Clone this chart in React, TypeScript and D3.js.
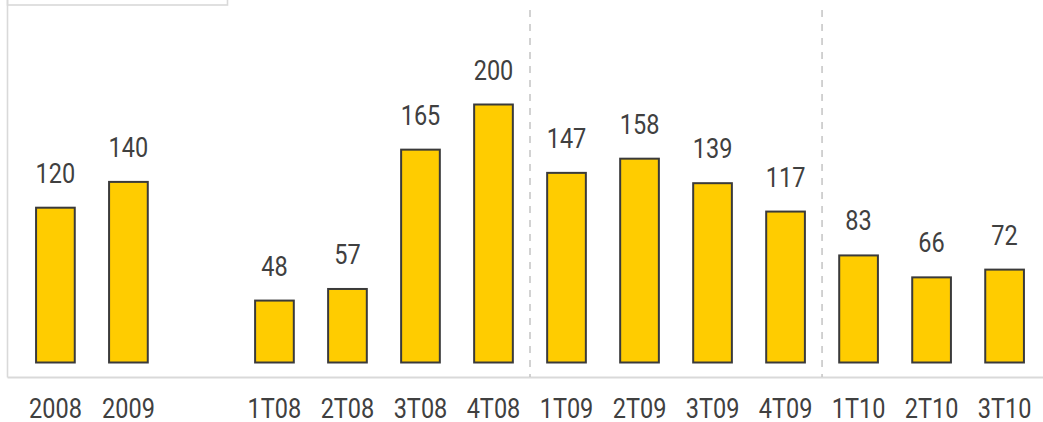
import React from "react";
import * as d3 from "d3";

// Annual totals and quarterly figures
const categories = ["2008", "2009", "", "1T08", "2T08", "3T08", "4T08", "1T09", "2T09", "3T09", "4T09", "1T10", "2T10", "3T10"];
const values: (number | null)[] = [120, 140, null, 48, 57, 165, 200, 147, 158, 139, 117, 83, 66, 72];
// Vertical dashed separators sit after these categories
const separatorsAfter = ["4T08", "4T09"];

const W = 1043;
const H = 422;
const FONT = "Roboto, 'Liberation Sans', sans-serif";
const TEXT = "#404040";
const GRID = "#d9d9d9";

export default function App() {
  const x = d3
    .scaleBand<string>()
    .domain(categories.map((c, i) => c || `gap${i}`))
    .range([20, 1040])
    .paddingInner(0.47)
    .paddingOuter(0.22);
  const keys = x.domain();
  const y = d3.scaleLinear().domain([0, 250]).range([362.5, 40]);
  const bw = x.bandwidth();
  const step = x.step();

  const label = (tx: number, ty: number, s: string, key: string) => (
    <text
      key={key}
      transform={`translate(${tx},${ty}) scale(0.84,1)`}
      textAnchor="middle"
      fontFamily={FONT}
      fontSize={28}
      fill={TEXT}
    >
      {s}
    </text>
  );

  return (
    <svg
      width={W}
      height={H}
      style={{ position: "absolute", left: 0, top: 0, background: "#fff" }}
    >
      {/* plot frame fragments */}
      <rect x={7.5} y={-10} width={220} height={15} fill="none" stroke={GRID} strokeWidth={1.6} />
      <line x1={7.5} x2={7.5} y1={0} y2={377.5} stroke={GRID} strokeWidth={1.6} />
      <line x1={7.5} x2={W} y1={377.5} y2={377.5} stroke={GRID} strokeWidth={2} />

      {separatorsAfter.map((c) => {
        const sx = (x(c) as number) + bw / 2 + step / 2;
        return (
          <line
            key={c}
            x1={sx}
            x2={sx}
            y1={10}
            y2={377}
            stroke="#c4c4c4"
            strokeWidth={1.5}
            strokeDasharray="7,7"
          />
        );
      })}

      {values.map((v, i) => {
        if (v == null) return null;
        const k = keys[i];
        const bx = x(k) as number;
        return (
          <rect
            key={k}
            x={bx}
            y={y(v)}
            width={bw}
            height={y(0) - y(v)}
            fill="#FFCC00"
            stroke="#3a3a3a"
            strokeWidth={2}
          />
        );
      })}

      {values.map((v, i) => {
        if (v == null) return null;
        const k = keys[i];
        return label((x(k) as number) + bw / 2, y(v) - 25, String(v), `v${k}`);
      })}

      {categories.map((c, i) => {
        if (!c) return null;
        return label((x(keys[i]) as number) + bw / 2, 418, c, `c${c}`);
      })}
    </svg>
  );
}
